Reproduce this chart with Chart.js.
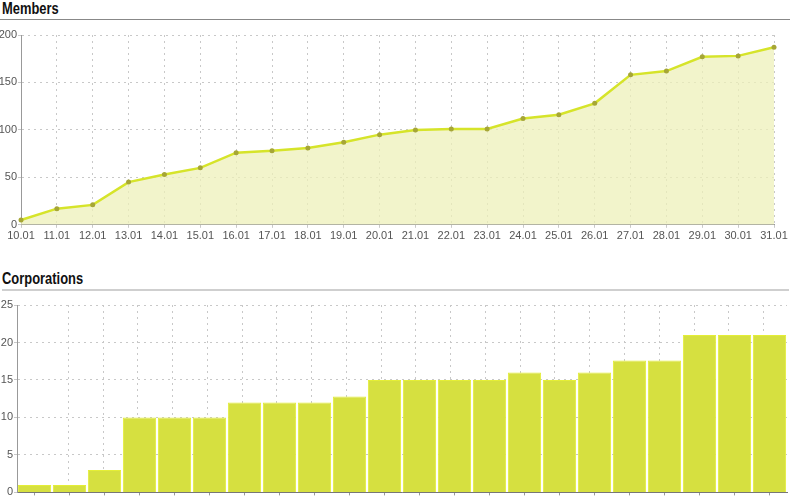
<!DOCTYPE html>
<html>
<head>
<meta charset="utf-8">
<script src="https://cdn.jsdelivr.net/npm/chart.js@4"></script>
<style>
  body { margin: 0; background: #fff; width: 800px; height: 500px; overflow: hidden; position: relative; }
  h2 { position: absolute; margin: 0; font-family: "Liberation Sans", Arial, sans-serif; font-weight: bold; font-size: 17px; line-height: 18px; color: #111;
       transform: scaleX(0.76); transform-origin: left top; }
  .rule { position: absolute; left: 0; width: 790px; }
  .box { position: absolute; left: 0; width: 800px; }
</style>
</head>
<body>
<h2 style="left:2px; top:0px;">Members</h2>
<div class="rule" style="top:19px; height:1px; background:#888;"></div>
<div class="box" style="top:25px; height:220px;"><canvas id="membersChart"></canvas></div>

<h2 style="left:2px; top:270px;">Corporations</h2>
<div class="rule" style="top:289px; left:2px; width:787px; height:2px; background:#cfcfcf;"></div>
<div class="box" style="top:295px; height:205px;"><canvas id="corpChart"></canvas></div>

<script>
var days = ['10.01', '11.01', '12.01', '13.01', '14.01', '15.01', '16.01', '17.01', '18.01', '19.01', '20.01',
            '21.01', '22.01', '23.01', '24.01', '25.01', '26.01', '27.01', '28.01', '29.01', '30.01', '31.01'];
var members = [5, 17, 21, 45, 53, 60, 76, 78, 81, 87, 95, 100, 101, 101, 112, 116, 128, 158, 162, 177, 178, 187];
var corporations = [1, 1, 3, 10, 10, 10, 12, 12, 12, 12.8, 15, 15, 15, 15, 16, 15, 16, 17.6, 17.6, 21, 21, 21];

var tickFont = { family: 'Liberation Sans', size: 11 };

// Members line chart
var ctx_members = document.getElementById('membersChart');
var membersChart = new Chart(ctx_members, {
  type: 'line',
  data: {
    labels: days,
    datasets: [{
      data: members,
      borderColor: '#d6e42a',
      borderWidth: 2.5,
      backgroundColor: 'rgba(238, 240, 186, 0.75)',
      fill: 'origin',
      tension: 0,
      pointRadius: 2.5,
      pointBackgroundColor: '#a6a636',
      pointBorderColor: '#a6a636',
      pointBorderWidth: 0
    }]
  },
  options: {
    responsive: true,
    maintainAspectRatio: false,
    animation: false,
    layout: { padding: { top: 10, right: 26, left: 0, bottom: 0 } },
    plugins: { legend: { display: false }, tooltip: { enabled: false } },
    scales: {
      x: {
        offset: false,
        grid: { color: '#c8c8c8', tickLength: 3 },
        border: { color: '#999', dash: [2, 4] },
        ticks: { color: '#555', font: tickFont, padding: 2, maxRotation: 0, autoSkip: false }
      },
      y: {
        min: 0,
        max: 200,
        ticks: { stepSize: 50, color: '#555', font: tickFont, padding: 1 },
        grid: { color: '#c8c8c8', tickLength: 3 },
        border: { color: '#999', dash: [2, 4] },
        afterFit: function(scale) { scale.width = 21; }
      }
    }
  }
});

// Corporations bar chart
// the vertical grid of this chart does not follow the bars, so it comes from its own axis
var ctx_corp = document.getElementById('corpChart');
var corpChart = new Chart(ctx_corp, {
  type: 'bar',
  data: {
    labels: days,
    datasets: [{
      data: corporations,
      backgroundColor: '#d6e040',
      borderColor: '#e4ee36',
      borderWidth: 1,
      barPercentage: 0.95,
      categoryPercentage: 1
    }]
  },
  options: {
    responsive: true,
    maintainAspectRatio: false,
    animation: false,
    layout: { padding: { top: 10, right: 13, left: 0, bottom: 0 } },
    plugins: { legend: { display: false }, tooltip: { enabled: false } },
    scales: {
      x: {
        grid: { color: '#999', tickLength: 3, offset: false, drawOnChartArea: false },
        border: { color: '#777' },
        ticks: { display: false },
        afterFit: function(scale) { scale.height = 4; }
      },
      xgrid: {
        type: 'linear',
        position: 'bottom',
        min: -0.42,
        max: 20.62,
        ticks: { display: false },
        afterBuildTicks: function(scale) {
          var t = [];
          for (var k = 1; k <= 20; k++) t.push({ value: k });
          scale.ticks = t;
        },
        grid: { drawTicks: false, color: '#c8c8c8' },
        border: { display: false, dash: [2, 4] },
        afterFit: function(scale) { scale.height = 0; }
      },
      y: {
        min: 0,
        max: 25,
        ticks: { stepSize: 5, color: '#555', font: tickFont, padding: 1 },
        grid: { color: '#c8c8c8', tickLength: 3 },
        border: { color: '#999', dash: [2, 4] },
        afterFit: function(scale) { scale.width = 17; }
      }
    }
  }
});
</script>
</body>
</html>
